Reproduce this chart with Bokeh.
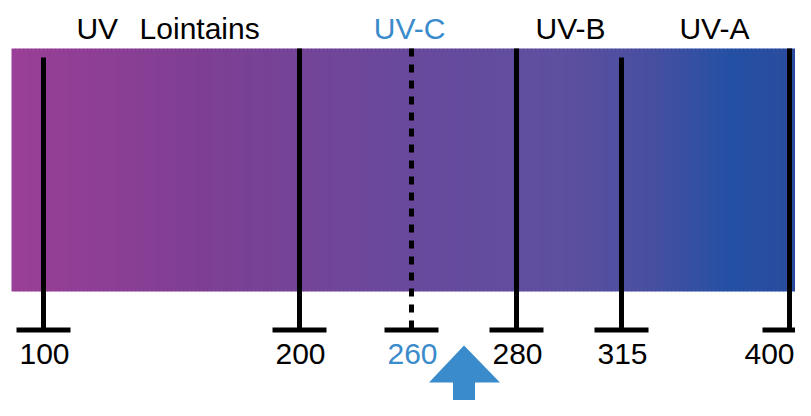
import numpy as np
from bokeh.plotting import figure
from bokeh.models import Range1d, ColumnDataSource
from bokeh.core.properties import value
from bokeh.embed import file_html
from bokeh.resources import INLINE

# ---- data ----
wavelengths = [100, 200, 260, 280, 315, 400]
tick_labels = ["100", "200", "260", "280", "315", "400"]
tick_highlight = [False, False, True, False, False, False]
tick_short = [True, False, False, False, True, False]   # lines that start a little below the band top
band_names = ["UV", "Lointains", "UV-C", "UV-B", "UV-A"]
band_name_wl = [121, 161, 259, 298, 362]
band_name_highlight = [False, False, True, False, False]
arrow_wl = 270

# schematic (non-linear) wavelength scale: anchor wavelengths -> screen units
scale_wl = [80, 100, 200, 260, 280, 315, 400, 410]
scale_px = [10, 43, 299, 411, 516, 621, 789, 820]
def xpos(w):
    return np.interp(w, scale_wl, scale_px)

# gradient of the band (style)
grad_stops = [11, 200, 400, 560, 650, 730, 811]
grad_cols = [(0x9a, 0x3f, 0x97), (0x7e, 0x3f, 0x93), (0x69, 0x49, 0x9c),
             (0x5e, 0x4f, 0x9f), (0x48, 0x4f, 0xa0), (0x24, 0x50, 0xa4), (0x2d, 0x4a, 0x9c)]

BLUE = "#3a8bcb"
FONT = "Liberation Sans"
W, H = 795, 400

p = figure(width=W, height=H, output_backend="svg", toolbar_location=None,
           x_range=Range1d(0, W), y_range=Range1d(H, 0),
           min_border=0, outline_line_color=None)
p.axis.visible = False
p.grid.visible = False
p.background_fill_color = "white"
p.border_fill_color = "white"

# gradient band
band_left, band_right = 11, 811
band_top, band_bottom = 48, 291
edges = np.linspace(band_left, band_right, 201)
mids = (edges[:-1] + edges[1:]) / 2
cols = []
for m in mids:
    r = np.interp(m, grad_stops, [c[0] for c in grad_cols])
    g = np.interp(m, grad_stops, [c[1] for c in grad_cols])
    b = np.interp(m, grad_stops, [c[2] for c in grad_cols])
    cols.append("#%02x%02x%02x" % (int(round(r)), int(round(g)), int(round(b))))
p.quad(left=edges[:-1], right=edges[1:] + 0.6, top=band_top, bottom=band_bottom,
       fill_color=cols, line_color=None)

# tick lines
xs = xpos(np.array(wavelengths))
line_bottom = 329.5
for x, short, hl in zip(xs, tick_short, tick_highlight):
    top = 57 if short else band_top
    if hl:
        p.segment(x0=[x], y0=[top], x1=[x], y1=[line_bottom], line_color="black",
                  line_width=5, line_dash="8 8")
    else:
        p.segment(x0=[x], y0=[top], x1=[x], y1=[line_bottom], line_color="black",
                  line_width=5)
    p.segment(x0=[x - 27], y0=[line_bottom], x1=[x + 27], y1=[line_bottom],
              line_color="black", line_width=5)

# tick labels (the last one is kept inside the visible page)
lab_x = []
lab_align = []
for x in xs:
    if x + 26 > W:
        lab_x.append(W - 1)
        lab_align.append("right")
    else:
        lab_x.append(x + 1)
        lab_align.append("center")
src = ColumnDataSource(dict(x=lab_x, y=[353] * len(xs), t=tick_labels, a=lab_align,
                            c=[BLUE if h else "black" for h in tick_highlight]))
p.text(x="x", y="y", text="t", text_color="c", source=src, text_align="a",
       text_baseline="alphabetic", text_font=value(FONT), text_font_size="30px")

# band names
nsrc = ColumnDataSource(dict(x=xpos(np.array(band_name_wl)), y=[28] * len(band_names),
                             t=band_names,
                             c=[BLUE if h else "black" for h in band_name_highlight]))
p.text(x="x", y="y", text="t", text_color="c", source=nsrc, text_align="center",
       text_baseline="alphabetic", text_font=value(FONT), text_font_size="30px")

# arrow pointing up
ax = float(xpos(arrow_wl))
p.patch(x=[ax, ax + 36, ax + 11, ax + 11, ax - 11, ax - 11, ax - 35],
        y=[345, 382, 382, 408, 408, 382, 382], fill_color=BLUE, line_color=None)

open("out.html", "w").write(file_html(p, INLINE))
